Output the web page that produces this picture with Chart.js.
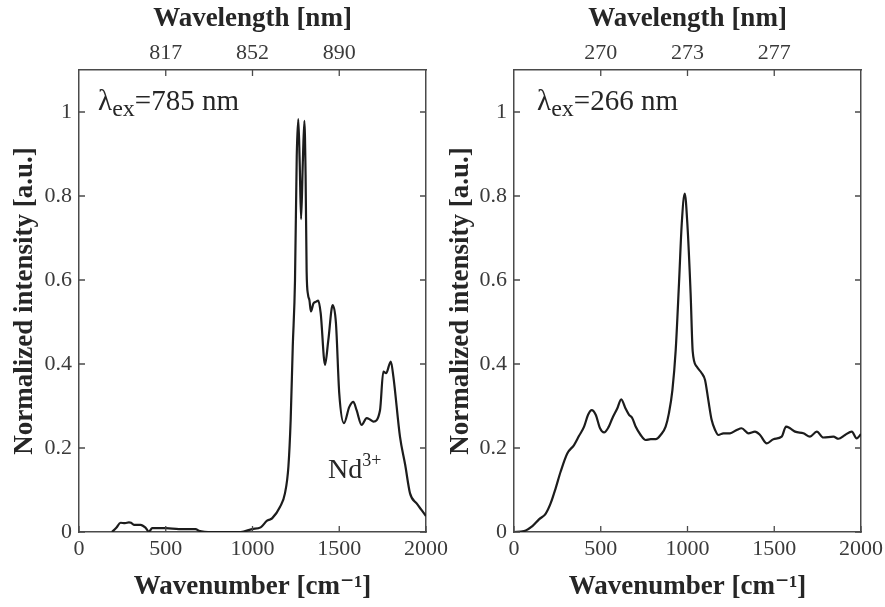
<!DOCTYPE html>
<html>
<head>
<meta charset="utf-8">
<script src="https://cdn.jsdelivr.net/npm/chart.js@4.4.1/dist/chart.umd.min.js"></script>
<style>
  body{ margin:0; background:#fff; }
  #leftBox{ position:absolute; left:0; top:0; }
  #rightBox{ position:absolute; left:440px; top:0; }
</style>
</head>
<body>
<div id="leftBox"><canvas id="leftChart" width="460" height="607"></canvas></div>
<div id="rightBox"><canvas id="rightChart" width="445" height="607"></canvas></div>
<script>
// spectrum excited at 785 nm (wavenumber, normalized intensity)
const leftX = [190,215,240,265,288,300,317,355,384,403,422,500,576,672,691,768,932,998,1047,1084,1101,1114,1159,1187,1207,1220,1232,1245,1255,1264,1272,1280,1290,1299,1306,1312,1320,1328,1337,1351,1365,1379,1393,1418,1437,1462,1481,1500,1527,1558,1581,1600,1629,1658,1677,1697,1735,1754,1770,1797,1812,1850,1880,1908,1946,1975,2000];
const leftY = [0,0.010,0.022,0.021,0.023,0.022,0.017,0.017,0.010,0.001,0.009,0.009,0.007,0.007,0.003,0,0,0.007,0.011,0.027,0.030,0.033,0.060,0.092,0.156,0.267,0.441,0.600,0.894,0.983,0.880,0.745,0.880,0.979,0.850,0.620,0.565,0.552,0.525,0.544,0.548,0.551,0.521,0.398,0.457,0.540,0.497,0.330,0.259,0.298,0.310,0.290,0.255,0.271,0.268,0.263,0.290,0.382,0.378,0.406,0.370,0.227,0.160,0.092,0.068,0.052,0.038];

// spectrum excited at 266 nm
const rightX = [0,58,106,144,183,211,240,269,307,346,375,404,427,448,471,496,519,544,567,595,618,643,663,682,701,730,759,788,817,845,874,893,913,932,951,967,984,999,1018,1030,1053,1082,1101,1120,1139,1159,1178,1207,1245,1284,1312,1351,1389,1418,1457,1495,1543,1568,1591,1620,1668,1706,1745,1783,1841,1870,1908,1947,1975,2000];
const rightY = [0,0.002,0.014,0.030,0.044,0.068,0.104,0.144,0.187,0.207,0.229,0.251,0.279,0.290,0.279,0.247,0.237,0.249,0.271,0.294,0.316,0.294,0.279,0.271,0.251,0.231,0.219,0.221,0.221,0.231,0.251,0.283,0.338,0.433,0.592,0.735,0.806,0.735,0.568,0.430,0.394,0.378,0.362,0.314,0.267,0.243,0.231,0.235,0.235,0.243,0.247,0.235,0.239,0.231,0.211,0.221,0.227,0.251,0.247,0.239,0.235,0.227,0.239,0.225,0.227,0.222,0.231,0.239,0.223,0.233];

const yTicks = [0, 0.2, 0.4, 0.6, 0.8, 1];
const xTicks = [0, 500, 1000, 1500, 2000];
const topTickValues = [500, 1000, 1500];
const topLabelsLeft = ["817", "852", "890"];
const topLabelsRight = ["270", "273", "277"];

const FONT = '"Liberation Serif", "DejaVu Serif", serif';
const axisColor = "#4a4a4a";
const textColor = "#262626";

const innerTicks = {
  id: "innerTicks",
  afterDraw(chart){
    const { ctx, chartArea: a, scales } = chart;
    const len = 6;
    ctx.save();
    ctx.strokeStyle = axisColor;
    ctx.lineWidth = 1.3;
    ctx.beginPath();
    scales.x.ticks.forEach(t => {
      const px = scales.x.getPixelForValue(t.value);
      ctx.moveTo(px, a.bottom); ctx.lineTo(px, a.bottom - len);
    });
    scales.x2.ticks.forEach(t => {
      const px = scales.x2.getPixelForValue(t.value);
      ctx.moveTo(px, a.top); ctx.lineTo(px, a.top + len);
    });
    scales.y.ticks.forEach(t => {
      const py = scales.y.getPixelForValue(t.value);
      ctx.moveTo(a.left, py); ctx.lineTo(a.left + len, py);
      ctx.moveTo(a.right, py); ctx.lineTo(a.right - len, py);
    });
    ctx.stroke();
    ctx.restore();
  }
};

const notes = {
  id: "notes",
  afterDatasetsDraw(chart, args, opts){
    const { ctx, scales } = chart;
    (opts.items || []).forEach(item => {
      let px = scales.x.getPixelForValue(item.x);
      const py = scales.y.getPixelForValue(item.y);
      item.parts.forEach(p => {
        ctx.save();
        ctx.font = `${p.size}px ${FONT}`;
        ctx.fillStyle = textColor;
        ctx.textBaseline = "alphabetic";
        ctx.fillText(p.text, px, py + (p.dy || 0));
        px += ctx.measureText(p.text).width + (p.gap || 0);
        ctx.restore();
      });
    });
  }
};

function noMargins(s){
  s.paddingLeft = 0; s.paddingRight = 0; s.paddingTop = 0; s.paddingBottom = 0;
}

function makeChart(id, xs, ys, topLabels, noteItems, leftW, rightW, yTitlePad){
  const pts = xs.map((x, i) => ({ x, y: ys[i] }));
  const border = { display: true, color: axisColor, width: 1.5 };
  const noGrid = { drawOnChartArea: false, drawTicks: false };
  const tickFont = { family: FONT, size: 22 };
  const titleFont = { family: FONT, size: 27, weight: "bold" };
  const plain = v => String(v);

  return new Chart(document.getElementById(id), {
    type: "line",
    data: {
      datasets: [{
        data: pts,
        borderColor: "#1c1c1c",
        borderWidth: 2.2,
        pointRadius: 0,
        cubicInterpolationMode: "monotone",
        fill: false
      }]
    },
    options: {
      responsive: false,
      animation: false,
      events: [],
      layout: { padding: 0, autoPadding: false },
      plugins: { legend: { display: false }, tooltip: { enabled: false }, notes: { items: noteItems } },
      scales: {
        x: {
          type: "linear", position: "bottom", min: 0, max: 2000,
          afterBuildTicks: s => { s.ticks = xTicks.map(v => ({ value: v })); },
          afterFit: s => { s.height = 75; noMargins(s); },
          ticks: { font: tickFont, color: "#3a3a3a", padding: 4, maxRotation: 0, callback: plain },
          grid: noGrid, border,
          title: { display: true, text: "Wavenumber [cm\u207B\u00B9]", font: titleFont, color: textColor, padding: { top: 0, bottom: 4 } }
        },
        x2: {
          type: "linear", position: "top", min: 0, max: 2000,
          afterBuildTicks: s => { s.ticks = topTickValues.map(v => ({ value: v })); },
          afterFit: s => { s.height = 70; noMargins(s); },
          ticks: { font: tickFont, color: "#3a3a3a", padding: 4, maxRotation: 0,
                   callback: (v, i) => topLabels[i] },
          grid: noGrid, border,
          title: { display: true, text: "Wavelength [nm]", font: titleFont, color: textColor, padding: { top: 3, bottom: 0 } }
        },
        y: {
          type: "linear", position: "left", min: 0, max: 1.1,
          afterBuildTicks: s => { s.ticks = yTicks.map(v => ({ value: v })); },
          afterFit: s => { s.width = leftW; noMargins(s); },
          ticks: { font: tickFont, color: "#3a3a3a", padding: 7, callback: plain },
          grid: noGrid, border,
          title: { display: true, text: "Normalized intensity [a.u.]", font: titleFont, color: textColor, padding: { top: yTitlePad, bottom: 0 } }
        },
        y2: {
          type: "linear", position: "right", min: 0, max: 1.1,
          afterFit: s => { s.width = rightW; noMargins(s); },
          ticks: { display: false },
          grid: noGrid, border
        }
      }
    },
    plugins: [innerTicks, notes]
  });
}

makeChart("leftChart", leftX, leftY, topLabelsLeft, [
  { x: 110, y: 1.005, parts: [ { text: "\u03BB", size: 29 }, { text: "ex", size: 24, dy: 6 }, { text: "=785 nm", size: 29 } ] },
  { x: 1435, y: 0.129, parts: [ { text: "Nd", size: 28 }, { text: "3+", size: 18, dy: -12 } ] }
], 79, 34, 9);

makeChart("rightChart", rightX, rightY, topLabelsRight, [
  { x: 133, y: 1.005, parts: [ { text: "\u03BB", size: 29 }, { text: "ex", size: 24, dy: 6 }, { text: "=266 nm", size: 29 } ] }
], 74, 24, 5);
</script>
</body>
</html>
